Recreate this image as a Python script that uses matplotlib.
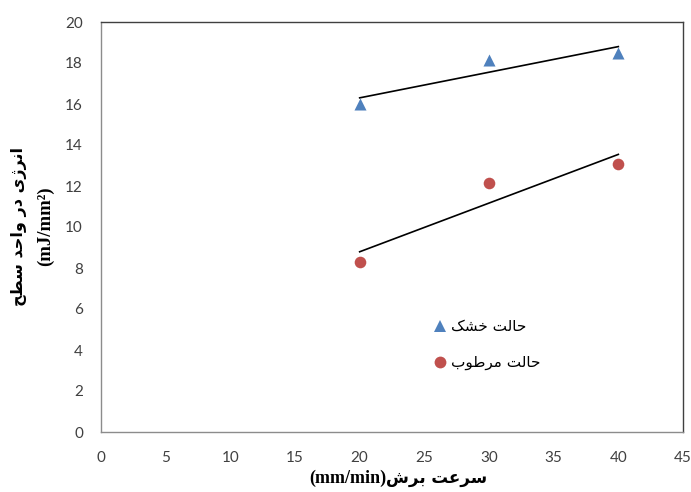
import numpy as np
import matplotlib
matplotlib.use("Agg")
import matplotlib.pyplot as plt
from matplotlib.lines import Line2D

# Cutting speed (mm/min) and specific energy (mJ/mm^2)
speed = [20, 30, 40]
energy_dry = [16.0, 18.15, 18.5]
energy_wet = [8.3, 12.15, 13.05]

x_ticks = [0, 5, 10, 15, 20, 25, 30, 35, 40, 45]
y_ticks = [0, 2, 4, 6, 8, 10, 12, 14, 16, 18, 20]

# Persian strings written in visual (shaped, left-to-right) order
label_dry = "\uFB8F\uFEB8\uFEA7 \uFE96\uFEDF\uFE8E\uFEA3"            # حالت خشک
label_wet = "\uFE8F\uFEEE\uFEC3\uFEAE\uFEE3 \uFE96\uFEDF\uFE8E\uFEA3"  # حالت مرطوب
ylabel_fa = ("\uFEA2\uFEC4\uFEB3 \uFEAA\uFEA3\uFE8D\uFEED "
             "\uFEAD\uFEA9 \uFBFC\uFB8A\uFEAE\uFEE7\uFE8D")              # انرژی در واحد سطح
xlabel_fa = "\uFEB5\uFEAE\uFE91 \uFE96\uFECB\uFEAE\uFEB3"                # سرعت برش
xlabel_unit = "(mm/min)"
ylabel_unit = "(mJ/mm\u00b2)"

blue = "#4F81BD"
red = "#C0504D"

fig = plt.figure(figsize=(6.91, 4.92), dpi=100)
ax = fig.add_axes([101 / 691, 1 - 432 / 492, 582 / 691, 410 / 492])

ax.scatter(speed, energy_dry, marker="^", s=75, color=blue, zorder=3, linewidths=0)
ax.scatter(speed, energy_wet, marker="o", s=70, color=red, zorder=3, linewidths=0)

# Linear trend lines
xs = np.array([min(speed), max(speed)], dtype=float)
for vals in (energy_dry, energy_wet):
    k, b = np.polyfit(speed, vals, 1)
    ax.plot(xs, k * xs + b, color="black", lw=1.2, zorder=2)

ax.set_xlim(0, 45)
ax.set_ylim(0, 20)
ax.set_xticks(x_ticks)
ax.set_yticks(y_ticks)
ax.tick_params(length=0, labelsize=11, colors="#404040")
ax.tick_params(axis="y", pad=13)
ax.tick_params(axis="x", pad=14)
for lab in ax.get_xticklabels() + ax.get_yticklabels():
    lab.set_family("Lato")

for side in ("left", "bottom"):
    ax.spines[side].set_color("#8c8c8c")
for side in ("top", "right"):
    ax.spines[side].set_color("#404040")
for s in ax.spines.values():
    s.set_linewidth(1.0)

handles = [
    Line2D([], [], marker="^", ls="none", color=blue, markersize=8.5, markeredgewidth=0),
    Line2D([], [], marker="o", ls="none", color=red, markersize=8.5, markeredgewidth=0),
]
leg = ax.legend(handles, [label_dry, label_wet], loc="center left",
                bbox_to_anchor=(0.545, 0.213), frameon=False,
                labelspacing=1.35, handletextpad=0.25, handlelength=1.0,
                prop={"family": "DejaVu Sans", "size": 11})

# Axis titles: Latin units in a bold serif, Persian words in bold sans
fig.text(386 / 691, 1 - 478 / 492, xlabel_unit, ha="right", va="center",
         fontsize=13, fontweight="bold", family="Liberation Serif")
fig.text(386 / 691, 1 - 478 / 492, xlabel_fa, ha="left", va="center",
         fontsize=12, fontweight="bold", family="DejaVu Sans")
fig.text(19 / 691, 1 - 226 / 492, ylabel_fa, ha="center", va="center",
         rotation=90, fontsize=11.5, fontweight="bold", family="DejaVu Sans")
fig.text(45 / 691, 1 - 226 / 492, ylabel_unit, ha="center", va="center",
         rotation=90, fontsize=13.5, fontweight="bold", family="Liberation Serif")

fig.savefig("out.png", dpi=100)
